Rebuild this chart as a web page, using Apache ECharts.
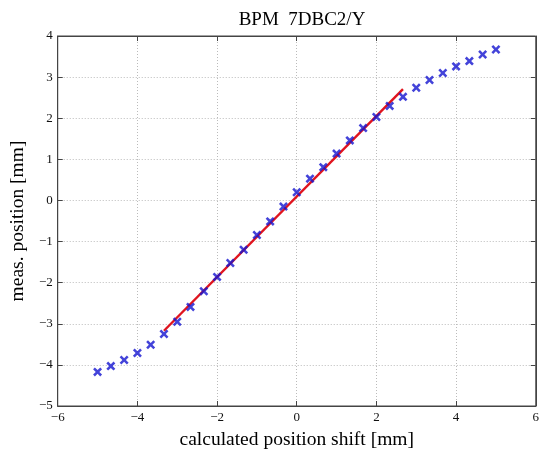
<!DOCTYPE html>
<html>
<head>
<meta charset="utf-8">
<script src="https://cdn.jsdelivr.net/npm/echarts@6/dist/echarts.min.js"></script>
<style>html,body{margin:0;padding:0;background:#fff;}#c{width:542px;height:455px;}</style>
</head>
<body>
<div id="c"></div>
<script>
var xValues = [-5, -4.667, -4.333, -4, -3.667, -3.333, -3, -2.667, -2.333, -2, -1.667, -1.333, -1, -0.667, -0.333, 0, 0.333, 0.667, 1, 1.333, 1.667, 2, 2.333, 2.667, 3, 3.333, 3.667, 4, 4.333, 4.667, 5];
var yValues = [-4.17, -4.03, -3.88, -3.71, -3.51, -3.25, -2.95, -2.59, -2.21, -1.86, -1.52, -1.20, -0.84, -0.51, -0.15, 0.20, 0.53, 0.81, 1.14, 1.46, 1.76, 2.03, 2.30, 2.52, 2.74, 2.93, 3.10, 3.26, 3.39, 3.55, 3.67];
var fitX = [-3.333, 2.667];
var fitY = [-3.17, 2.71];
var titleText = 'BPM  7DBC2/Y';
var xLabel = 'calculated position shift [mm]';
var yLabel = 'meas. position [mm]';

var serif = 'Liberation Serif';
function fmt(v){ return String(v).replace('-', '\u2212'); }
var pts = xValues.map(function(x,i){ return [x, yValues[i]]; });
var fit = fitX.map(function(x,i){ return [x, fitY[i]]; });
var xMark = 'path://M0,2 L2,0 L5,3 L8,0 L10,2 L7,5 L10,8 L8,10 L5,7 L2,10 L0,8 L3,5 Z';

var chart = echarts.init(document.getElementById('c'));
chart.setOption({
  animation: false,
  backgroundColor: '#fff',
  title: {
    text: titleText, left: 297, top: 6, textAlign: 'center',
    textStyle: {fontFamily: serif, fontSize: 19, fontWeight: 'normal', color: '#000'}
  },
  grid: {left: 57, right: 4, top: 36, bottom: 38, show: true, borderColor: '#444', borderWidth: 1, backgroundColor: '#fff'},
  xAxis: [{
    type: 'value', min: -6, max: 6, interval: 2, position: 'bottom',
    name: xLabel, nameLocation: 'middle', nameGap: 24,
    nameTextStyle: {fontFamily: serif, fontSize: 19.5, color: '#000'},
    axisLine: {show: true, onZero: false, lineStyle: {color: '#444'}},
    axisTick: {show: true, inside: true, length: 5, lineStyle: {color: '#444'}},
    axisLabel: {fontFamily: serif, fontSize: 13, color: '#111', margin: 5, formatter: fmt},
    splitLine: {show: true, lineStyle: {color: '#bbb', type: [1, 2], width: 1}}
  }, {
    type: 'value', min: -6, max: 6, interval: 2, position: 'top',
    axisLine: {show: true, onZero: false, lineStyle: {color: '#444'}},
    axisTick: {show: true, inside: true, length: 5, lineStyle: {color: '#444'}},
    axisLabel: {show: false}, splitLine: {show: false}
  }],
  yAxis: [{
    type: 'value', min: -5, max: 4, interval: 1, position: 'left',
    name: yLabel, nameLocation: 'middle', nameGap: 25, nameRotate: 90,
    nameTextStyle: {fontFamily: serif, fontSize: 19.5, color: '#000'},
    axisLine: {show: true, onZero: false, lineStyle: {color: '#444'}},
    axisTick: {show: true, inside: true, length: 5, lineStyle: {color: '#444'}},
    axisLabel: {fontFamily: serif, fontSize: 13, color: '#111', margin: 5, formatter: fmt},
    splitLine: {show: true, lineStyle: {color: '#bbb', type: [1, 2], width: 1}}
  }, {
    type: 'value', min: -5, max: 4, interval: 1, position: 'right',
    axisLine: {show: true, onZero: false, lineStyle: {color: '#444'}},
    axisTick: {show: true, inside: true, length: 5, lineStyle: {color: '#444'}},
    axisLabel: {show: false}, splitLine: {show: false}
  }],
  series: [{
    type: 'line', data: fit, xAxisIndex: 0, yAxisIndex: 0,
    showSymbol: false, symbol: 'none',
    lineStyle: {color: '#e0141e', width: 2.4}, z: 2
  }, {
    type: 'scatter', data: pts, xAxisIndex: 0, yAxisIndex: 0,
    symbol: xMark, symbolSize: 9,
    itemStyle: {color: '#1414d0'}, z: 3
  }]
});
</script>
</body>
</html>
